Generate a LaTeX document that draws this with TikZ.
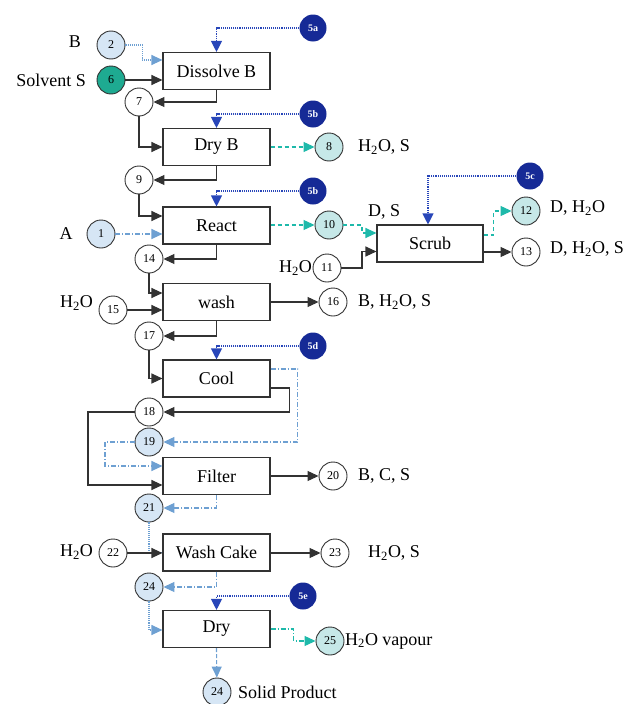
\documentclass[tikz,border=0pt]{standalone}
\usepackage{fontspec}
\setmainfont{Liberation Serif}
\usepackage{xcolor}
\usetikzlibrary{arrows.meta, calc}

\definecolor{flowgray}{RGB}{50,50,50}
\definecolor{lbfill}{RGB}{214,230,245}
\definecolor{ltfill}{RGB}{198,232,232}
\definecolor{tealfill}{RGB}{30,170,145}
\definecolor{utilblue}{RGB}{22,42,150}
\definecolor{lbline}{RGB}{110,160,210}
\definecolor{tealline}{RGB}{30,185,170}
\definecolor{dotblue}{RGB}{40,70,185}

\begin{document}
\begin{tikzpicture}[
    x=1pt, y=-1pt,
    box/.style={draw=flowgray, line width=1.1pt, rectangle, minimum height=37pt, minimum width=107pt, inner sep=0pt, align=center, fill=white, font=\fontsize{18}{20}\selectfont},
    strm/.style={draw=flowgray, line width=0.9pt, circle, minimum size=28pt, inner sep=0pt, fill=white, font=\fontsize{12}{12}\selectfont},
    util/.style={circle, minimum size=27pt, inner sep=0pt, fill=utilblue, text=white, font=\fontsize{10}{10}\selectfont\bfseries},
    lbl/.style={inner sep=1pt, font=\fontsize{18}{20}\selectfont},
    arrow/.style={draw=flowgray, line width=1.1pt, -{Triangle[length=11pt,width=10pt]}},
    feed/.style={draw=lbline, line width=1.1pt, densely dotted, -{Triangle[length=11pt,width=10pt]}},
    recyc/.style={draw=lbline, line width=1.1pt, dash pattern=on 5pt off 2pt on 1pt off 2pt, -{Triangle[length=11pt,width=10pt]}},
    vent/.style={draw=tealline, line width=1.1pt, dash pattern=on 4pt off 3pt, -{Triangle[length=11pt,width=10pt]}},
    energy/.style={draw=dotblue, line width=1.1pt, densely dotted, -{Triangle[length=11pt,width=11pt]}}
]
\useasboundingbox (0,0) rectangle (631,704);

% process units
\node[box] (dissolve) at (216.5,71) {Dissolve B};
\node[box] (dryb) at (216.5,147) {Dry B};
\node[box] (react) at (216.5,225.5) {React};
\node[box] (wash) at (216.5,302) {wash};
\node[box] (cool) at (216.5,378.5) {Cool};
\node[box] (filter) at (216.5,476) {Filter};
\node[box] (washcake) at (216.5,552.5) {Wash Cake};
\node[box] (dry) at (216.5,629) {Dry};
\node[box, minimum width=106pt] (scrub) at (430,243.5) {Scrub};

% streams
\node[strm, fill=lbfill] (s2) at (111,45) {2};
\node[strm, fill=tealfill] (s6) at (111,80) {6};
\node[strm] (s7) at (139,102) {7};
\node[strm, fill=ltfill] (s8) at (329,147) {8};
\node[strm] (s9) at (139,180) {9};
\node[strm, fill=lbfill] (s1) at (101,234) {1};
\node[strm, fill=ltfill] (s10) at (329,225) {10};
\node[strm] (s11) at (327,268) {11};
\node[strm, fill=ltfill] (s12) at (526,211) {12};
\node[strm] (s13) at (526,252) {13};
\node[strm] (s14) at (149,259) {14};
\node[strm] (s15) at (113,310) {15};
\node[strm] (s16) at (333,302) {16};
\node[strm] (s17) at (149,336) {17};
\node[strm] (s18) at (149,412) {18};
\node[strm, fill=lbfill] (s19) at (149,442) {19};
\node[strm] (s20) at (333,476) {20};
\node[strm, fill=lbfill] (s21) at (149,508) {21};
\node[strm] (s22) at (113,553) {22};
\node[strm] (s23) at (335,553) {23};
\node[strm, fill=lbfill] (s24) at (149,587) {24};
\node[strm, fill=ltfill] (s25) at (330,641) {25};
\node[strm, fill=lbfill] (s24b) at (217,692) {24};

% utilities
\node[util] (u5a) at (313,28) {5a};
\node[util] (u5b) at (313,114) {5b};
\node[util] (u5bb) at (313,191) {5b};
\node[util] (u5c) at (530,176) {5c};
\node[util] (u5d) at (313,346) {5d};
\node[util] (u5e) at (303,596) {5e};

% stream labels
\node[lbl] (lB) at (75,42) {B};
\node[lbl, anchor=east] (lS) at (87,80) {Solvent S};
\node[lbl, anchor=west] (l8) at (357,147) {H\textsubscript{2}O, S};
\node[lbl] (lA) at (66,234) {A};
\node[lbl, anchor=west] (l10) at (367,212) {D, S};
\node[lbl, anchor=east] (l11) at (313,268) {H\textsubscript{2}O};
\node[lbl, anchor=west] (l12) at (549,208) {D, H\textsubscript{2}O};
\node[lbl, anchor=west] (l13) at (549,249) {D, H\textsubscript{2}O, S};
\node[lbl, anchor=east] (l15) at (94,303) {H\textsubscript{2}O};
\node[lbl, anchor=west] (l16) at (357,302) {B, H\textsubscript{2}O, S};
\node[lbl, anchor=west] (l20) at (357,476) {B, C, S};
\node[lbl, anchor=east] (l22) at (94,552) {H\textsubscript{2}O};
\node[lbl, anchor=west] (l23) at (367,553) {H\textsubscript{2}O, S};
\node[lbl, anchor=west] (l25) at (344,641) {H\textsubscript{2}O vapour};
\node[lbl, anchor=west] (l24b) at (237,692) {Solid Product};

% energy inputs
\draw[energy] (u5a) -| (dissolve.north);
\draw[energy] (u5b) -| (dryb.north);
\draw[energy] (u5bb) -| (react.north);
\draw[energy] (u5c) -| ([xshift=-2pt]scrub.north);
\draw[energy] (u5d) -| (cool.north);
\draw[energy] (u5e) -| (dry.north);

% main line
\draw[feed] (s2) -| ([xshift=-20pt,yshift=11pt]dissolve.west) -- ([yshift=11pt]dissolve.west);
\draw[arrow] (s6) -- (s6 -| dissolve.west);
\draw[arrow] (dissolve.south) |- (s7);
\draw[arrow] (s7) |- (dryb.west);
\draw[vent] (dryb.east) -- (s8);
\draw[arrow] (dryb.south) |- (s9);
\draw[arrow] (s9) |- ([yshift=9.5pt]react.west);
\draw[recyc] (s1) -- (s1 -| react.west);
\draw[vent] (s10 -| react.east) -- (s10);
\draw[arrow] (react.south) |- (s14);
\draw[arrow] (s14) |- ([yshift=9pt]wash.west);
\draw[arrow] (s15) -- (s15 -| wash.west);
\draw[arrow] (s16 -| wash.east) -- (s16);
\draw[arrow] (wash.south) |- (s17);
\draw[arrow] (s17) |- (cool.west);
\draw[arrow] ([yshift=-9.5pt]cool.east) -- ++(19,0) |- (s18);
\draw[recyc] ([yshift=9.5pt]cool.east) -- ++(27,0) |- (s19);
\draw[arrow] (s18) -- ++(-61,0) |- ([yshift=-9pt]filter.west);
\draw[recyc] (s19) -- ++(-44,0) |- ([yshift=10pt]filter.west);
\draw[arrow] (s20 -| filter.east) -- (s20);
\draw[recyc] (filter.south) |- (s21);
\draw[feed, -] (s21) |- (washcake.west);
\draw[arrow] (s22) -- (s22 -| washcake.west);
\draw[arrow] (s23 -| washcake.east) -- (s23);
\draw[recyc] (washcake.south) |- (s24);
\draw[feed] (s24) |- ([yshift=-1pt]dry.west);
\draw[vent, dash pattern=on 5pt off 2pt on 1pt off 2pt] (dry.east) -- ++(23,0) |- (s25);
\draw[feed, dash pattern=on 4pt off 2pt] (dry.south) -- (s24b);

% scrubber
\draw[vent] (s10) -- ++(33,0) |- ([yshift=10.5pt]scrub.west);
\draw[arrow] (s11) -- ++(35,0) |- ([yshift=-8pt]scrub.west);
\draw[vent] ([yshift=8.5pt]scrub.east) -- ++(10,0) |- (s12);
\draw[arrow] (s13 -| scrub.east) -- (s13);
\end{tikzpicture}
\end{document}
